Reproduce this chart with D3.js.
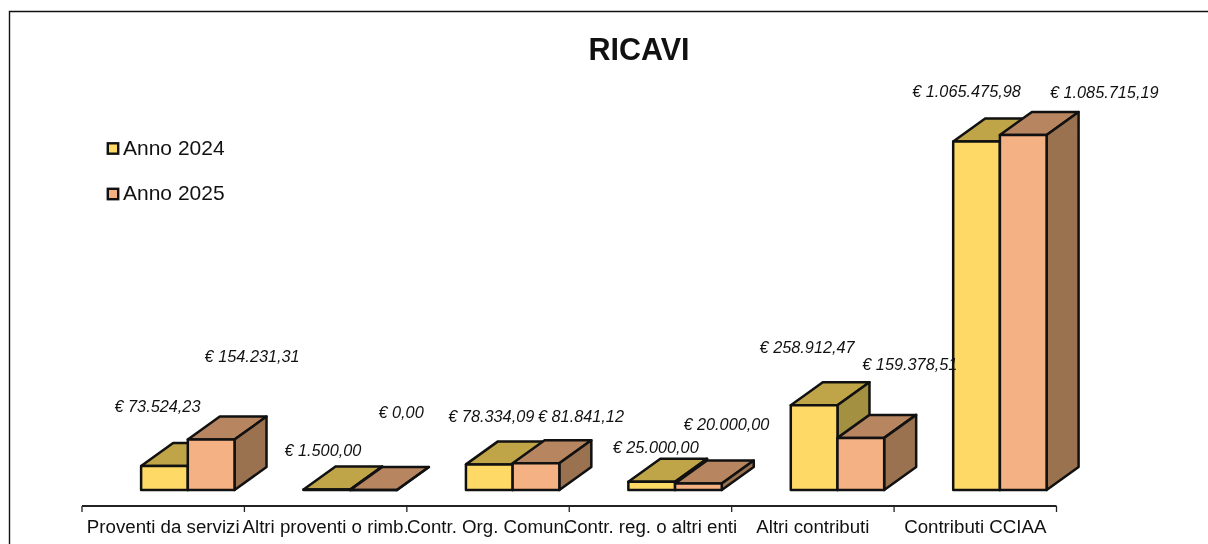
<!DOCTYPE html>
<html><head><meta charset="utf-8">
<script src="https://cdn.jsdelivr.net/npm/d3@7"></script>
<style>html,body{margin:0;padding:0;background:#fff}svg{display:block;filter:blur(0.35px)}text{font-family:"Liberation Sans",Arial,sans-serif;fill:#111}</style>
</head><body><svg id="c" width="1208" height="544"></svg>
<script>
const title = "RICAVI";
const categories = ["Proventi da servizi","Altri proventi o rimb.","Contr. Org. Comun.","Contr. reg. o altri enti","Altri contributi","Contributi CCIAA"];
const seriesNames = ["Anno 2024","Anno 2025"];
const anno2024 = [73524.23,1500,78334.09,25000,258912.47,1065475.98];
const anno2025 = [154231.31,0,81841.12,20000,159378.51,1085715.19];
const labels2024 = ["€ 73.524,23","€ 1.500,00","€ 78.334,09","€ 25.000,00","€ 258.912,47","€ 1.065.475,98"];
const labels2025 = ["€ 154.231,31","€ 0,00","€ 81.841,12","€ 20.000,00","€ 159.378,51","€ 1.085.715,19"];
// manual data-label displacement (from bar top-centre), as in the original
const labelShift2024 = [[-7,-54],[-4,-34],[2,-42],[4,-29],[-7,-52],[-10,-45]];
const labelShift2025 = [[41,-78],[27.5,-72],[45,-41],[28,-53],[49,-68],[81,-37]];

const svg = d3.select("#c");
const palette = [
 {front:"#FFD966",top:"#BFA548",side:"#A39040"},
 {front:"#F4B183",top:"#B78560",side:"#9B7250"}];
const depthX = 32, depthY = 23;

const x = d3.scaleBand().domain(categories).range([82,1056.5]);
const y = d3.scaleLinear().domain([0,1200000]).range([490,97.6]);
const barW = 46.7, barOff = 24.6; // centre of bar pair relative to band centre

// frame
svg.append("path").attr("d","M9.5,544V11.5H1208").attr("fill","none").attr("stroke","#111").attr("stroke-width",1.4);

svg.append("text").attr("x",639).attr("y",60).attr("text-anchor","middle")
  .attr("font-size",30.5).attr("font-weight","bold").text(title);

// axis
const tickPos = categories.map(c=>x(c)).concat([x.range()[1]]);
svg.append("line").attr("x1",x.range()[0]).attr("x2",x.range()[1]).attr("y1",506).attr("y2",506).attr("stroke","#222").attr("stroke-width",1.8);
svg.selectAll(".tk").data(tickPos).join("line").attr("x1",d=>d).attr("x2",d=>d).attr("y1",506).attr("y2",512).attr("stroke","#222").attr("stroke-width",1.3);
svg.selectAll(".cat").data(categories).join("text")
  .attr("x",d=>x(d)+x.bandwidth()/2).attr("y",533)
  .attr("text-anchor","middle").attr("font-size",18.7).text(d=>d);

// bars
[anno2024,anno2025].forEach((vals,s)=>{
  const g = svg.append("g");
  const col = palette[s];
  categories.forEach((c,i)=>{
    const x0 = x(c)+x.bandwidth()/2+barOff-barW+s*barW, x1=x0+barW;
    const yt = y(vals[i]), yb=y(0);
    const add=(pts,fill)=>g.append("path").attr("d","M"+pts.join("L")+"Z").attr("fill",fill)
      .attr("stroke","#111").attr("stroke-width",2.5).attr("stroke-linejoin","round");
    add([[x0,yt],[x0+depthX,yt-depthY],[x1+depthX,yt-depthY],[x1,yt]],col.top);
    add([[x1,yt],[x1+depthX,yt-depthY],[x1+depthX,yb-depthY],[x1,yb]],col.side);
    add([[x0,yt],[x1,yt],[x1,yb],[x0,yb]],col.front);
  });
});

// data labels
[[anno2024,labels2024,labelShift2024],[anno2025,labels2025,labelShift2025]].forEach(([vals,labs,sh],s)=>{
  categories.forEach((c,i)=>{
    const cx = x(c)+x.bandwidth()/2+barOff-barW/2+(s-0.5)*barW+barW/2;
    svg.append("text").attr("x",cx+sh[i][0]).attr("y",y(vals[i])+sh[i][1])
      .attr("text-anchor","middle").attr("font-size",16.3).attr("font-style","italic").text(labs[i]);
  });
});

// legend
seriesNames.forEach((n,i)=>{
  svg.append("rect").attr("x",107.8).attr("y",143.3+i*45.5).attr("width",10.4).attr("height",10.4)
    .attr("fill",palette[i].front).attr("stroke","#111").attr("stroke-width",2.4);
  svg.append("text").attr("x",123).attr("y",154.7+i*45.5).attr("font-size",21).text(n);
});
</script></body></html>
